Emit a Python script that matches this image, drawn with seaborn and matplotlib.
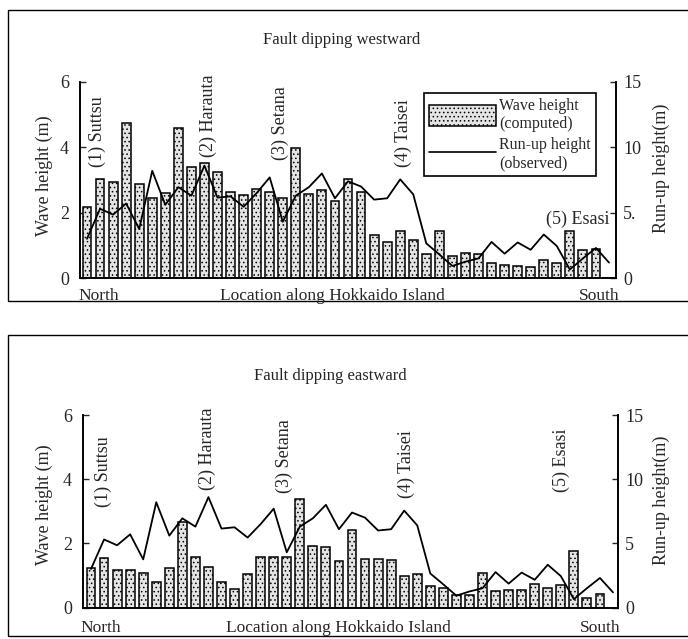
import matplotlib
matplotlib.use("Agg")
import matplotlib.pyplot as plt
from matplotlib.patches import Patch, Rectangle
from matplotlib.lines import Line2D
from matplotlib.ticker import FixedLocator, FixedFormatter
import seaborn as sns
import numpy as np

# ---------------- data ----------------
wave_west = [2.18, 3.03, 2.94, 4.76, 2.87, 2.46, 2.61, 4.58, 3.40, 3.53,
             3.25, 2.62, 2.54, 2.71, 2.64, 2.44, 3.97, 2.56, 2.69, 2.36,
             3.02, 2.64, 1.31, 1.11, 1.44, 1.16, 0.73, 1.45, 0.66, 0.76,
             0.73, 0.45, 0.40, 0.36, 0.35, 0.55, 0.47, 1.45, 0.86, 0.89]
wave_east = [1.22, 1.55, 1.17, 1.17, 1.08, 0.80, 1.22, 2.65, 1.56, 1.27,
             0.80, 0.57, 1.03, 1.58, 1.58, 1.58, 3.37, 1.93, 1.90, 1.45,
             2.42, 1.50, 1.52, 1.48, 0.98, 1.04, 0.67, 0.60, 0.39, 0.40,
             1.07, 0.52, 0.53, 0.53, 0.74, 0.62, 0.70, 1.77, 0.29, 0.43]
runup_obs = [3.0, 5.3, 4.85, 5.7, 3.75, 8.2, 5.6, 6.95, 6.3, 8.6,
             6.15, 6.25, 5.45, 6.5, 7.7, 4.3, 6.3, 6.95, 8.0, 6.1,
             7.4, 7.0, 6.0, 6.1, 7.55, 6.4, 2.65, 1.8, 0.92, 1.25,
             1.5, 2.76, 1.86, 2.72, 2.16, 3.33, 2.45, 0.65, 1.5, 2.3, 1.18]
bar_pos = list(range(len(wave_west)))
line_pos = list(range(len(runup_obs)))

titles = ["Fault dipping westward", "Fault dipping eastward"]
left_ticks = [0, 2, 4, 6]
right_ticks = [0, 5, 10, 15]
right_labels_top = ["0", "5.", "10", "15"]
right_labels_bot = ["0", "5", "10", "15"]
stations = ["(1) Suttsu", "(2) Harauta", "(3) Setana", "(4) Taisei", "(5) Esasi"]

# ---------------- style ----------------
sns.set_style("ticks")
plt.rcParams["font.family"] = ["Liberation Serif", "DejaVu Serif"]
plt.rcParams["hatch.linewidth"] = 0.6

W, H = 688, 639
fig = plt.figure(figsize=(W / 100, H / 100), dpi=100)

def fx(x):
    return x / W

def fy(y):
    return 1 - y / H

def make_axes(l, r, t, b):
    return fig.add_axes([fx(l), fy(b), (r - l) / W, (b - t) / H])

# panel frames
fig.add_artist(Rectangle((fx(8), fy(301)), (700 - 8) / W, (301 - 10) / H,
                         transform=fig.transFigure, fill=False, lw=1.0, ec="black"))
fig.add_artist(Rectangle((fx(8), fy(636)), (700 - 8) / W, (636 - 335) / H,
                         transform=fig.transFigure, fill=False, lw=1.0, ec="black"))

BAR_FACE = "#e4e4e4"
HATCH = "...."

panels = [
    dict(wave=wave_west, box=(80, 616, 82, 278), x0=87, rlab=right_labels_top,
         title_xy=(342, 40), lab_y=296, north=99, south=599, xlab=332,
         ylab_y=176, rylab_y=168,
         st=[(97, 167), (208, 157), (280, 160), (403, 167)]),
    dict(wave=wave_east, box=(83, 618, 415, 607.5), x0=91, rlab=right_labels_bot,
         title_xy=(330, 376), lab_y=628, north=101, south=600, xlab=338,
         ylab_y=505, rylab_y=500,
         st=[(103, 507), (207, 490), (284, 493), (406, 498), (561, 492)]),
]

for k, P in enumerate(panels):
    l, r, t, b = P["box"]
    ax = make_axes(l, r, t, b)
    sns.barplot(x=bar_pos, y=P["wave"], ax=ax, color=BAR_FACE, saturation=1,
                edgecolor="black", linewidth=1.1, width=0.68)
    for p in ax.patches:
        p.set_hatch(HATCH)
    step = 13.05
    ax.set_xlim(-(P["x0"] - l) / step, (r - P["x0"]) / step)
    ax.set_ylim(0, 6)
    ax2 = ax.twinx()
    sns.lineplot(x=line_pos, y=runup_obs, ax=ax2, color="black", lw=1.3)
    ax2.set_ylim(0, 15)
    ax2.set_xlim(ax.get_xlim())

    ax.set_xticks([])
    ax.set_xlabel("")
    ax.set_ylabel("")
    ax2.set_ylabel("")
    ax.yaxis.set_major_locator(FixedLocator(left_ticks))
    ax.yaxis.set_major_formatter(FixedFormatter([str(v) for v in left_ticks]))
    ax2.yaxis.set_major_locator(FixedLocator(right_ticks))
    ax2.yaxis.set_major_formatter(FixedFormatter(P["rlab"]))
    ax.tick_params(axis="y", direction="in", length=4, width=1, labelsize=13, pad=8)
    ax2.tick_params(axis="y", direction="in", length=4, width=1, labelsize=13, pad=5)
    for a in (ax, ax2):
        a.spines["top"].set_visible(False)
        for s in ("left", "right", "bottom"):
            a.spines[s].set_linewidth(1.2)
            a.spines[s].set_color("black")
    ax.patch.set_alpha(0)

    # texts
    fig.text(fx(P["title_xy"][0]), fy(P["title_xy"][1]), titles[k],
             ha="center", va="center", fontsize=12)
    fig.text(fx(P["north"]), fy(P["lab_y"]), "North", ha="center", va="center", fontsize=12.5)
    fig.text(fx(P["south"]), fy(P["lab_y"]), "South", ha="center", va="center", fontsize=12.5)
    fig.text(fx(P["xlab"]), fy(P["lab_y"]), "Location along Hokkaido Island",
             ha="center", va="center", fontsize=12.5)
    fig.text(fx(44), fy(P["ylab_y"]), "Wave height (m)", rotation=90,
             ha="center", va="center", fontsize=13)
    fig.text(fx(661), fy(P["rylab_y"]), "Run-up height(m)", rotation=90,
             ha="center", va="center", fontsize=13)
    for (sx, sy), name in zip(P["st"], stations):
        fig.text(fx(sx), fy(sy), name, rotation=90, ha="center", va="bottom", fontsize=13)

    if k == 0:
        fig.text(fx(609), fy(219), stations[4], ha="right", va="center", fontsize=13)
        handles = [Patch(facecolor=BAR_FACE, edgecolor="black", hatch=HATCH, lw=1.1),
                   Line2D([0], [0], color="black", lw=1.2)]
        leg = ax2.legend(handles, ["Wave height\n(computed)", "Run-up height\n(observed)"],
                         loc="upper right", bbox_to_anchor=(0.962, 0.945),
                         frameon=True, fancybox=False, edgecolor="black",
                         framealpha=1, fontsize=11.5, handlelength=4.2,
                         handleheight=1.6, handletextpad=0.2, borderpad=0.3,
                         labelspacing=0.3, borderaxespad=0)
        leg.get_frame().set_linewidth(1.2)

fig.savefig("out.png", dpi=100)
